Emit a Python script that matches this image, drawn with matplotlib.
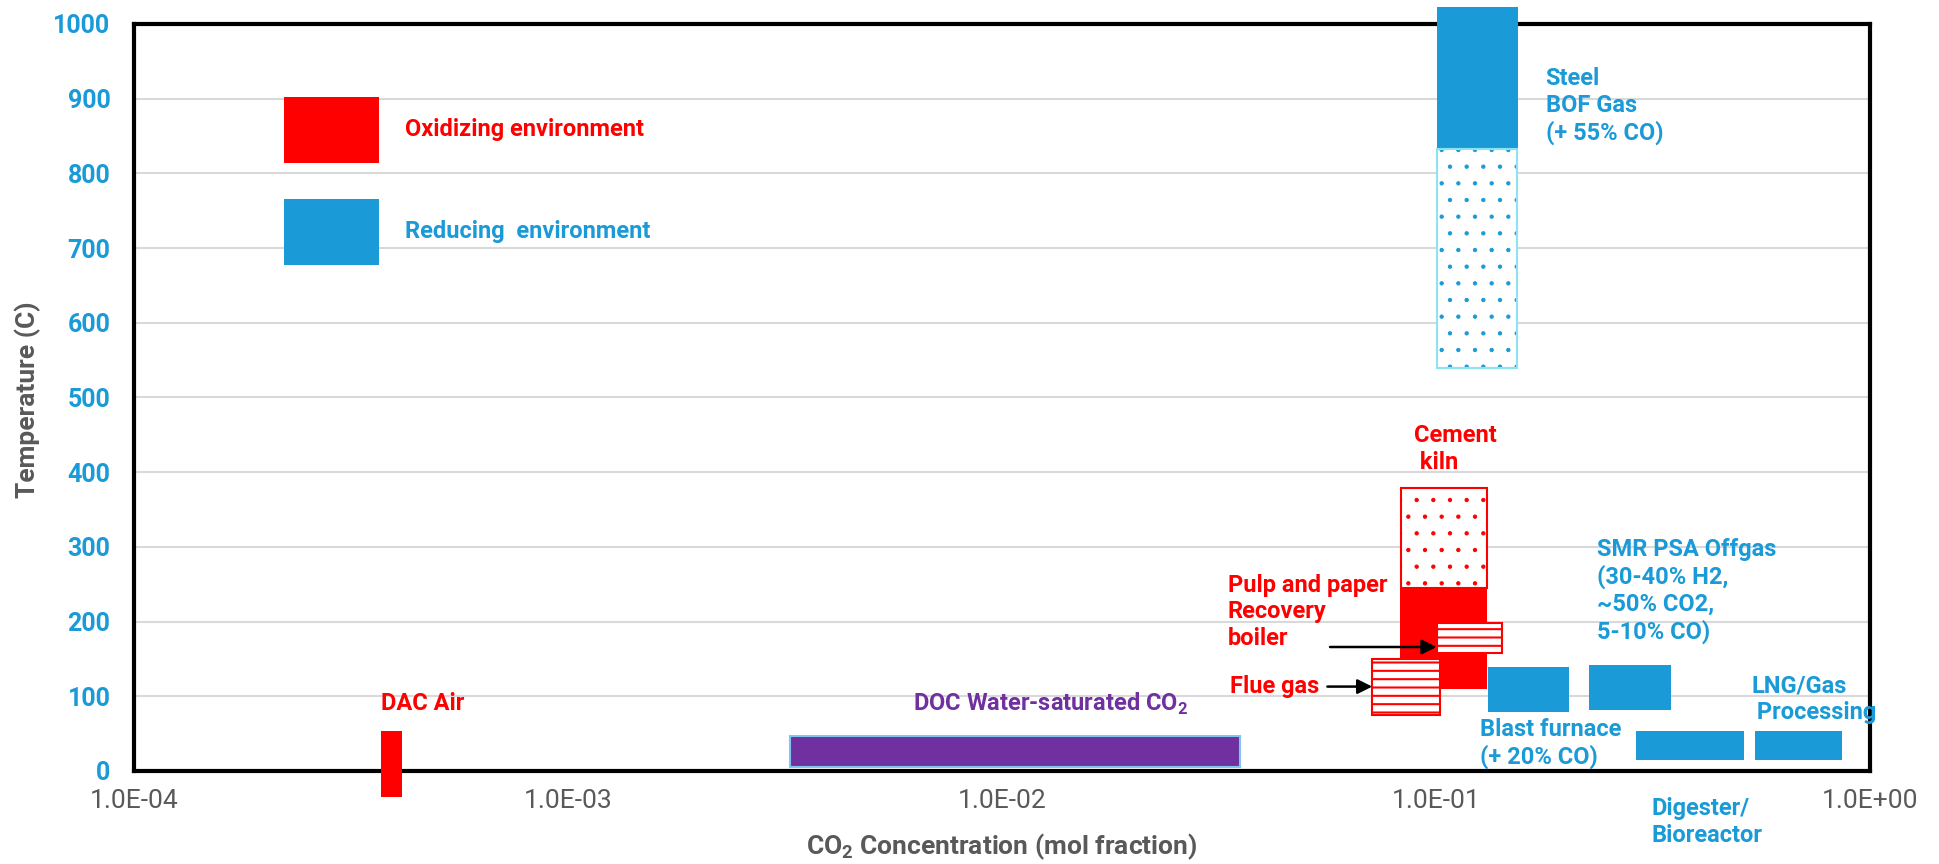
import matplotlib
matplotlib.use("Agg")
import matplotlib.pyplot as plt
from matplotlib.patches import Rectangle, Patch

plt.rcParams['font.family'] = ['Roboto', 'DejaVu Sans']
plt.rcParams['mathtext.fontset'] = 'custom'
plt.rcParams['mathtext.rm'] = 'Roboto'
plt.rcParams['mathtext.bf'] = 'Roboto:bold'
plt.rcParams['hatch.linewidth'] = 1.5

RED = '#FF0000'
BLUE = '#1A9AD6'
PURPLE = '#7030A0'
GRAY = '#595959'
CYAN = '#8DE3F0'

# CO2 source boxes: mol fraction range (x) and temperature range in C (y)
sources  = ['DAC Air', 'DOC', 'Cement kiln', 'Cement kiln upper', 'Flue gas',
            'Recovery boiler', 'Steel BOF', 'Steel BOF lower', 'Blast furnace',
            'SMR PSA', 'Digester', 'LNG']
co2_lo   = [3.70e-4, 3.24e-3, 0.0828, 0.0832, 0.0713, 0.1003, 0.1007, 0.1005,
            0.1315, 0.2246, 0.2897, 0.5447]
co2_hi   = [4.15e-4, 0.0354, 0.1308, 0.1308, 0.1022, 0.1423, 0.1546, 0.1540,
            0.2020, 0.3470, 0.5138, 0.8597]
temp_lo  = [-35, 5, 110, 245, 75, 158, 833, 539, 79, 82, 15, 15]
temp_hi  = [53, 47, 245, 379, 150, 198, 1023, 833, 139, 142, 53, 53]

x_ticks = [1e-4, 1e-3, 1e-2, 1e-1, 1e0]
x_tick_labels = ['1.0E-04', '1.0E-03', '1.0E-02', '1.0E-01', '1.0E+00']
y_ticks = list(range(0, 1001, 100))

# how each box is drawn: (face, edge, hatch, outline)
styles = {
    'DAC Air':           (RED, 'none', None, None),
    'DOC':               (PURPLE, '#7FC6EE', None, None),
    'Cement kiln':       (RED, 'none', None, None),
    'Cement kiln upper': ('white', RED, '.', None),
    'Flue gas':          ('white', RED, '--', None),
    'Recovery boiler':   ('white', RED, '--', None),
    'Steel BOF':         (BLUE, 'none', None, None),
    'Steel BOF lower':   ('white', BLUE, '.', CYAN),
    'Blast furnace':     (BLUE, 'none', None, None),
    'SMR PSA':           (BLUE, 'none', None, None),
    'Digester':          (BLUE, 'none', None, None),
    'LNG':               (BLUE, 'none', None, None),
}

fig = plt.figure(figsize=(19.39, 8.64), dpi=100)
ax = fig.add_axes([134 / 1939, 93 / 864, 1736 / 1939, 747 / 864])
ax.set_xscale('log')
ax.set_xlim(1e-4, 1)
ax.set_ylim(0, 1000)

for name, x0, x1, t0, t1 in zip(sources, co2_lo, co2_hi, temp_lo, temp_hi):
    face, edge, hatch, outline = styles[name]
    lw = 0 if outline else 1.5
    # dotted fills use finer hatch strokes
    with plt.rc_context({'hatch.linewidth': 0.7 if hatch == '.' else 1.5}):
        box = Rectangle((x0, t0), x1 - x0, t1 - t0, facecolor=face,
                        edgecolor=edge, hatch=hatch, lw=lw,
                        clip_on=False, zorder=4)
        if hatch == '.' and hasattr(box, 'set_hatch_linewidth'):
            box.set_hatch_linewidth(0.7)
        ax.add_patch(box)
    if outline:
        ax.add_patch(Rectangle((x0, t0), x1 - x0, t1 - t0, fill=False,
                               edgecolor=outline, lw=1.5, clip_on=False,
                               zorder=4))

# labels
kw = dict(fontsize=17, fontweight='bold', va='center', ha='left',
          linespacing=1.2, zorder=6)
ax.text(3.70e-4, 90, 'DAC Air', color=RED, **kw)
ax.text(0.01294, 90, 'DOC Water-saturated CO$_\\mathbf{2}$', color=PURPLE,
        **{**kw, 'ha': 'center'})
ax.text(0.0336, 113, 'Flue gas', color=RED, **kw)
ax.text(0.0331, 213, 'Pulp and paper\nRecovery\nboiler', color=RED, **kw)
ax.text(0.0892, 431, 'Cement\n kiln', color=RED, **kw)
ax.text(0.1788, 890, 'Steel\nBOF Gas\n(+ 55% CO)', color=BLUE, **kw)
ax.text(0.2344, 241, 'SMR PSA Offgas\n(30-40% H2,\n~50% CO2,\n5-10% CO)',
        color=BLUE, **kw)
ax.text(0.1266, 37, 'Blast furnace\n(+ 20% CO)', color=BLUE, **kw)
ax.text(0.5331, 96, 'LNG/Gas\n Processing', color=BLUE, **kw)
ax.text(0.3137, -68, 'Digester/\nBioreactor', color=BLUE, **kw)

arrow = dict(arrowstyle='-|>', color='black', lw=1.8, mutation_scale=22,
             shrinkA=0, shrinkB=0)
ax.annotate('', xy=(0.0713, 113), xytext=(0.0562, 113), arrowprops=arrow,
            zorder=6)
ax.annotate('', xy=(0.1003, 166), xytext=(0.0570, 166), arrowprops=arrow,
            zorder=6)

# legend: swatches 95x66 px, 102 px apart
handles = [Patch(facecolor=RED, edgecolor='none'),
           Patch(facecolor=BLUE, edgecolor='none')]
fs = 17 * 100 / 72
hh = (66 / fs - 0.245) / 0.65
ax.legend(handles, ['Oxidizing environment', 'Reducing  environment'],
          loc='upper left', bbox_to_anchor=(284 / 1939, 1 - 97 / 864),
          bbox_transform=fig.transFigure, frameon=False,
          prop=dict(weight='bold', size=17), labelcolor=[RED, BLUE],
          handlelength=95 / fs, handleheight=hh,
          labelspacing=36 / fs, handletextpad=26 / fs,
          borderpad=0, borderaxespad=0)

# axes styling
ax.set_xticks(x_ticks)
ax.set_xticklabels(x_tick_labels)
ax.xaxis.set_minor_locator(matplotlib.ticker.NullLocator())
ax.set_yticks(y_ticks)
ax.tick_params(axis='x', length=0, pad=13, labelsize=19, labelcolor=GRAY)
ax.tick_params(axis='y', length=0, pad=17, labelsize=18, labelcolor=BLUE)
for lab in ax.get_yticklabels():
    lab.set_fontweight('bold')
ax.grid(axis='y', color='#D9D9D9', lw=1.5)
ax.set_axisbelow(True)
for sp in ax.spines.values():
    sp.set_linewidth(3)
    sp.set_color('black')

ax.set_xlabel('CO$_\\mathbf{2}$ Concentration (mol fraction)', fontsize=19,
              fontweight='bold', color=GRAY, va='center')
ax.xaxis.set_label_coords(0.5, -0.102)
ax.set_ylabel('Temperature (C)', fontsize=19, fontweight='bold', color=GRAY,
              va='center')
ax.yaxis.set_label_coords(-0.061, 0.497)

fig.savefig('out.png', dpi=100)
